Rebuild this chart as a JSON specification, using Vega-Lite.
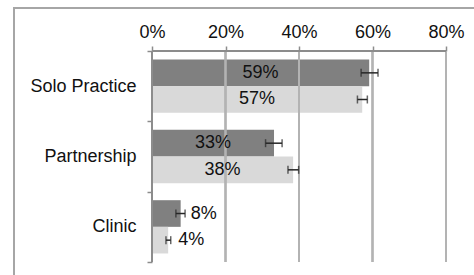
{
  "$schema": "https://vega.github.io/schema/vega-lite/v6.json",
  "width": 470,
  "height": 275,
  "autosize": "none",
  "padding": {"left": 14, "top": 8, "right": 0, "bottom": 0},
  "background": "white",
  "config": {
    "view": {"stroke": "#a6a6a6", "strokeWidth": 2},
    "font": "Liberation Sans"
  },
  "datasets": {
    "bars": [
      {"setting": "Solo Practice", "group": "A", "value": 0.591, "lo": 0.569, "hi": 0.615},
      {"setting": "Solo Practice", "group": "B", "value": 0.572, "lo": 0.559, "hi": 0.586},
      {"setting": "Partnership", "group": "A", "value": 0.332, "lo": 0.309, "hi": 0.354},
      {"setting": "Partnership", "group": "B", "value": 0.384, "lo": 0.370, "hi": 0.399},
      {"setting": "Clinic", "group": "A", "value": 0.078, "lo": 0.065, "hi": 0.090},
      {"setting": "Clinic", "group": "B", "value": 0.044, "lo": 0.038, "hi": 0.051}
    ]
  },
  "data": {"name": "bars"},
  "layer": [
    {
      "mark": {"type": "bar"},
      "encoding": {
        "y": {
          "field": "setting",
          "type": "nominal",
          "scale": {"domain": ["Solo Practice", "Partnership", "Clinic"], "paddingInner": 0, "paddingOuter": 0.455, "align": 0.672},
          "axis": {
            "orient": "left",
            "offset": -138,
            "domain": false,
            "tickBand": "extent",
            "ticks": true,
            "tickSize": 5,
            "tickColor": "#8c8c8c",
            "tickWidth": 1.5,
            "labelPadding": 11,
            "labelFontSize": 18,
            "labelColor": "#111111",
            "title": null
          }
        },
        "yOffset": {"field": "group", "type": "nominal", "scale": {"paddingInner": 0, "paddingOuter": 0.32}},
        "x": {
          "field": "value",
          "type": "quantitative",
          "scale": {"domain": [-0.37551, 0.9034], "nice": false, "zero": false},
          "axis": {
            "orient": "top",
            "offset": -43,
            "values": [0, 0.2, 0.4, 0.6, 0.8],
            "format": ".0%",
            "domain": false,
            "grid": false,
            "tickSize": 5,
            "tickColor": "#8c8c8c",
            "tickWidth": 1.5,
            "labelPadding": 5,
            "labelFontSize": 18,
            "labelColor": "#111111",
            "title": null
          }
        },
        "x2": {"datum": 0},
        "color": {"field": "group", "type": "nominal", "scale": {"domain": ["A", "B"], "range": ["#808080", "#d9d9d9"]}, "legend": null}
      }
    },
    {
      "mark": {"type": "rule", "color": "#b3b3b3", "strokeWidth": 1.5},
      "encoding": {
        "x": {"datum": 0.2},
        "y": {"datum": "Solo Practice", "bandPosition": 0},
        "y2": {"datum": "Clinic", "bandPosition": 1}
      }
    },
    {
      "mark": {"type": "rule", "color": "#b3b3b3", "strokeWidth": 1.5},
      "encoding": {
        "x": {"datum": 0.4},
        "y": {"datum": "Solo Practice", "bandPosition": 0},
        "y2": {"datum": "Clinic", "bandPosition": 1}
      }
    },
    {
      "mark": {"type": "rule", "color": "#b3b3b3", "strokeWidth": 1.5},
      "encoding": {
        "x": {"datum": 0.6},
        "y": {"datum": "Solo Practice", "bandPosition": 0},
        "y2": {"datum": "Clinic", "bandPosition": 1}
      }
    },
    {
      "mark": {"type": "rule", "color": "#b3b3b3", "strokeWidth": 1.5},
      "encoding": {
        "x": {"datum": 0.8},
        "y": {"datum": "Solo Practice", "bandPosition": 0},
        "y2": {"datum": "Clinic", "bandPosition": 1}
      }
    },
    {
      "mark": {"type": "rule", "color": "#8c8c8c", "strokeWidth": 1.5},
      "encoding": {
        "x": {"datum": 0},
        "y": {"datum": "Solo Practice", "bandPosition": 0},
        "y2": {"datum": "Clinic", "bandPosition": 1}
      }
    },
    {
      "mark": {"type": "rule", "color": "#8c8c8c", "strokeWidth": 1.5},
      "encoding": {
        "x": {"datum": 0},
        "x2": {"datum": 0.8},
        "y": {"datum": "Solo Practice", "bandPosition": 0}
      }
    },
    {
      "mark": {"type": "rule", "color": "#262626", "strokeWidth": 1.5},
      "encoding": {
        "y": {"field": "setting", "type": "nominal"},
        "yOffset": {"field": "group", "type": "nominal"},
        "x": {"field": "lo", "type": "quantitative"},
        "x2": {"field": "hi"}
      }
    },
    {
      "mark": {"type": "tick", "color": "#262626", "thickness": 1.5, "size": 8, "orient": "vertical"},
      "encoding": {
        "y": {"field": "setting", "type": "nominal"},
        "yOffset": {"field": "group", "type": "nominal"},
        "x": {"field": "lo", "type": "quantitative"}
      }
    },
    {
      "mark": {"type": "tick", "color": "#262626", "thickness": 1.5, "size": 8, "orient": "vertical"},
      "encoding": {
        "y": {"field": "setting", "type": "nominal"},
        "yOffset": {"field": "group", "type": "nominal"},
        "x": {"field": "hi", "type": "quantitative"}
      }
    },
    {
      "transform": [{"filter": "datum.value > 0.2"}, {"calculate": "datum.value / 2", "as": "mid"}],
      "mark": {"type": "text", "fontSize": 18, "color": "#111111", "align": "center", "baseline": "middle"},
      "encoding": {
        "y": {"field": "setting", "type": "nominal"},
        "yOffset": {"field": "group", "type": "nominal"},
        "x": {"field": "mid", "type": "quantitative"},
        "text": {"field": "value", "type": "quantitative", "format": ".0%"}
      }
    },
    {
      "transform": [{"filter": "datum.value <= 0.2"}],
      "mark": {"type": "text", "fontSize": 18, "color": "#111111", "align": "left", "baseline": "middle", "dx": 10},
      "encoding": {
        "y": {"field": "setting", "type": "nominal"},
        "yOffset": {"field": "group", "type": "nominal"},
        "x": {"field": "value", "type": "quantitative"},
        "text": {"field": "value", "type": "quantitative", "format": ".0%"}
      }
    }
  ]
}
